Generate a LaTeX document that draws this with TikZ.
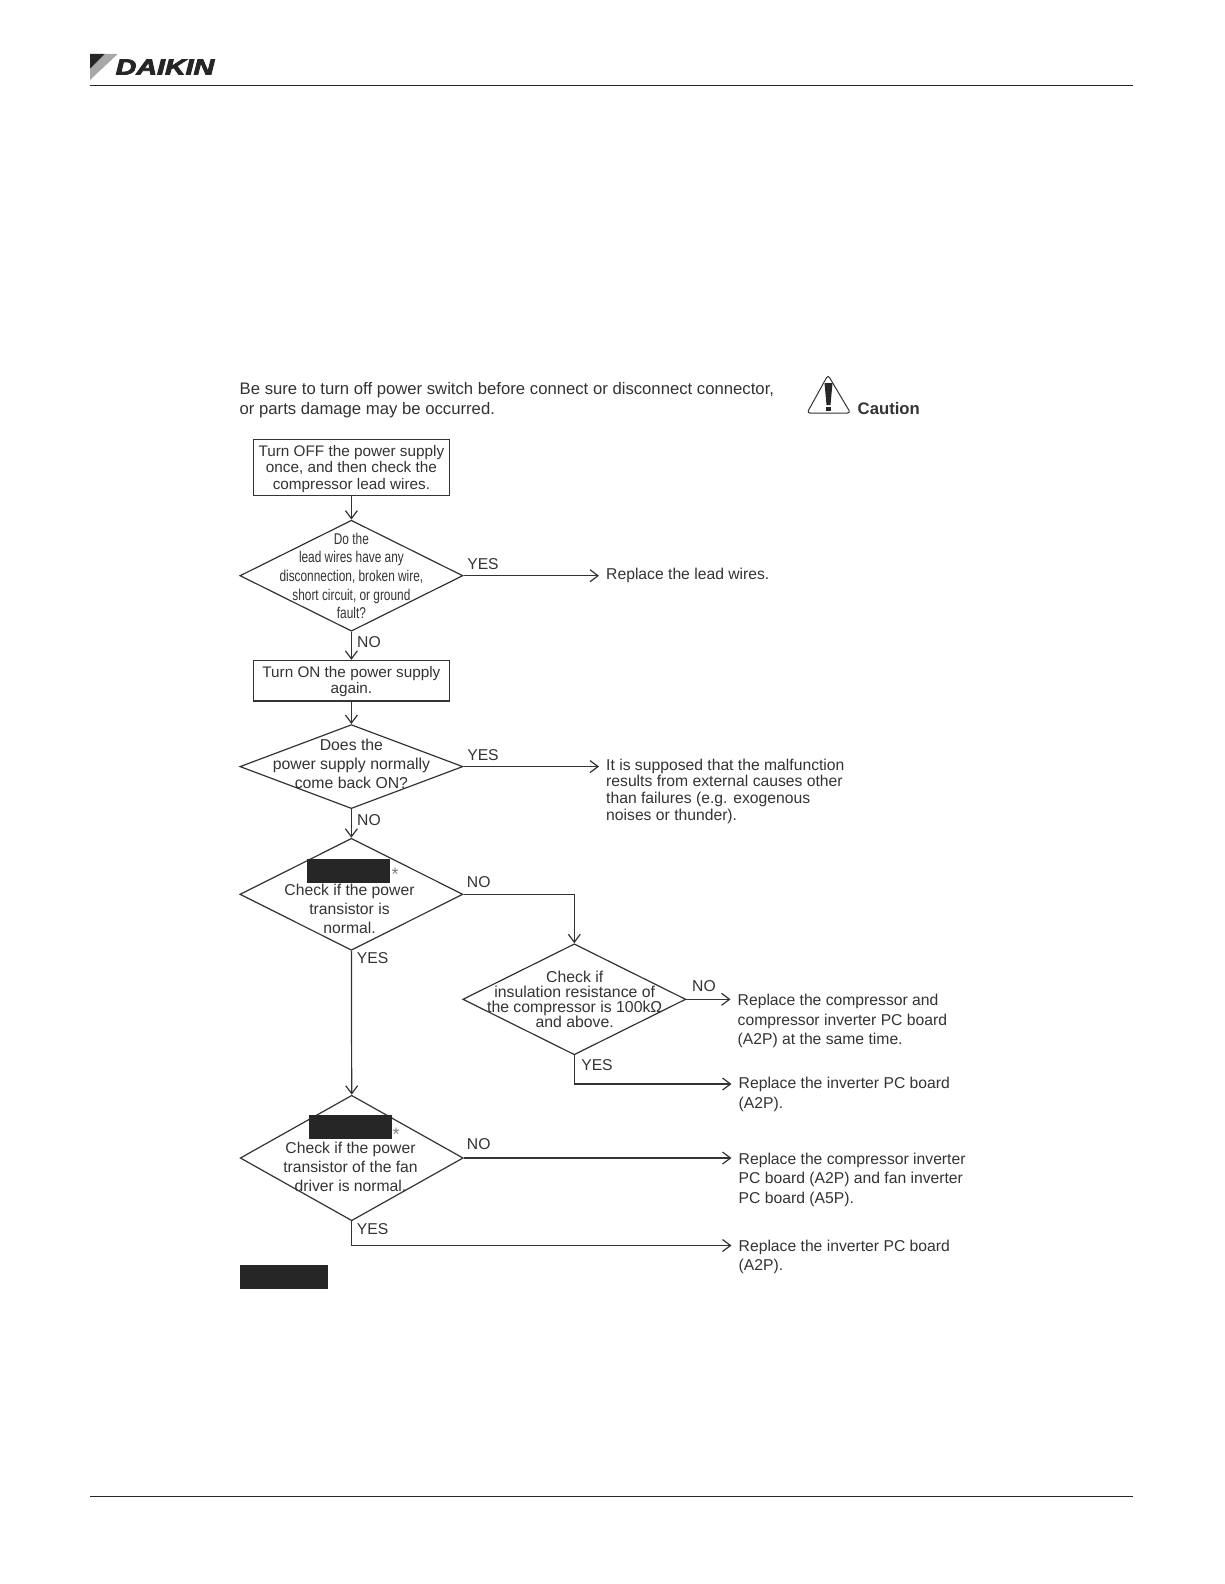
\documentclass[tikz,border=0pt]{standalone}
\usepackage{fontspec}
\setmainfont{Liberation Sans}
\newfontfamily\logofont[FakeBold=3.5]{Liberation Sans}
\usetikzlibrary{shapes.geometric, arrows.meta, positioning}
\definecolor{inkgray}{HTML}{333333}
\definecolor{logogray}{HTML}{A8A8A8}
\definecolor{blockblack}{HTML}{262626}
\tikzset{
    flowtext/.style={text=inkgray, font=\fontsize{15.3}{16.7}\selectfont, align=center, inner sep=0pt},
    stepbox/.style={draw=inkgray, line width=1.2pt, minimum width=195.5pt, inner sep=0pt},
    checkbox/.style={draw=inkgray, line width=1.2pt, diamond, inner sep=0pt, minimum width=223pt},
    resulttext/.style={text=inkgray, font=\fontsize{15.7}{19.6}\selectfont, align=left, anchor=north west, inner xsep=7pt, inner ysep=0pt},
    edgelabel/.style={text=inkgray, font=\fontsize{15.7}{18}\selectfont, inner sep=0pt},
    hidden/.style={fill=blockblack, inner sep=0pt},
    starmark/.style={text=gray, font=\fontsize{18}{18}\selectfont, inner sep=0pt},
    flowline/.style={draw=inkgray, line width=1.2pt, -{Straight Barb[length=8pt,width=12pt]}}
}

\begin{document}
\begin{tikzpicture}[x=1pt, y=-1pt]
    \useasboundingbox (0,0) rectangle (1224,1584);

    \fill[blockblack] (90,54) -- (105,54) -- (90,69) -- cycle;
    \fill[logogray] (105,54) -- (117.7,54) -- (90,80) -- (90,69) -- cycle;
    \node[text=blockblack, font=\logofont\fontsize{22}{22}\selectfont\bfseries\itshape, xscale=1.3, transform shape, inner sep=0pt] (logoname) at (165,67) {DAIKIN};
    \coordinate (headl) at (90,86);
    \coordinate (headr) at (1133,86);
    \coordinate (footl) at (90,1496);
    \coordinate (footr) at (1133,1496);
    \draw[blockblack, line width=1pt] (headl) -- (headr);
    \draw[blockblack, line width=1pt] (footl) -- (footr);

    \node[text=inkgray, font=\fontsize{16.7}{20}\selectfont, align=left, anchor=west, inner sep=0pt] (warning) at (239.5,400) {Be sure to turn off power switch before connect or disconnect connector,\\or parts damage may be occurred.};
    \draw[inkgray, line width=1pt, rounded corners=3pt] (828,375) -- (850.5,413) -- (807,413) -- cycle;
    \fill[blockblack] (824.5,383) -- (832.5,383) -- (830.5,405) -- (826.5,405) -- cycle;
    \fill[blockblack] (826,406.7) rectangle (831,410.7);
    \node[text=inkgray, font=\fontsize{16.7}{20}\selectfont\bfseries, anchor=west, inner sep=0pt] (caution) at (857.5,409) {Caution};

    \node[stepbox, minimum height=55.5pt] (off) at (351.4,467.5) {};
    \node[flowtext] (offtext) at (351.4,469) {Turn OFF the power supply\\once, and then check the\\compressor lead wires.};
    \node[checkbox, aspect=2, minimum height=111pt] (wires) at (351.4,575.7) {};
    \node[flowtext, font=\fontsize{15.6}{18.7}\selectfont, xscale=.76, transform shape] (wirestext) at (351.4,576) {Do the\\lead wires have any\\disconnection, broken wire,\\short circuit, or ground\\fault?};
    \node[stepbox, minimum height=40.5pt] (on) at (351.4,680.7) {};
    \node[flowtext] (ontext) at (351.4,681.5) {Turn ON the power supply\\again.};
    \node[checkbox, aspect=2.67, minimum height=84pt] (back) at (351.4,766.6) {};
    \node[flowtext, font=\fontsize{15.8}{18.7}\selectfont] (backtext) at (351.4,764) {Does the\\power supply normally\\come back ON?};
    \node[checkbox, aspect=2, minimum height=112pt] (trans) at (351.4,894.3) {};
    \node[flowtext, font=\fontsize{15.7}{18.7}\selectfont] (transtext) at (349.5,909) {Check if the power\\transistor is\\normal.};
    \node[hidden, minimum width=83pt, minimum height=24pt] (transhide) at (348.7,871) {};
    \node[starmark] (transstar) at (395,874.6) {*};
    \node[checkbox, aspect=2, minimum height=111pt] (insul) at (574.3,999.3) {};
    \node[flowtext, font=\fontsize{15.8}{15}\selectfont] (insultext) at (574.7,999.5) {Check if\\insulation resistance of\\the compressor is 100kΩ\\and above.};
    \node[checkbox, aspect=1.78, minimum height=125.5pt] (fan) at (351.7,1158) {};
    \node[flowtext, font=\fontsize{15.7}{18.7}\selectfont] (fantext) at (350.5,1167) {Check if the power\\transistor of the fan\\driver is normal.};
    \node[hidden, minimum width=83pt, minimum height=24pt] (fanhide) at (350.5,1127) {};
    \node[starmark] (fanstar) at (396,1134) {*};
    \node[hidden, minimum width=88pt, minimum height=24pt] (legendhide) at (284,1277) {};

    \node[resulttext, font=\fontsize{15.7}{16.7}\selectfont] (leadres) at (599,567.5) {Replace the lead wires.};
    \node[resulttext, font=\fontsize{15.7}{16.7}\selectfont] (externres) at (599,758.5) {It is supposed that the malfunction\\results from external causes other\\than failures (e.g. exogenous\\noises or thunder).};
    \node[resulttext] (bothres) at (730.5,994) {Replace the compressor and\\compressor inverter PC board\\(A2P) at the same time.};
    \node[resulttext] (invres) at (731.5,1077) {Replace the inverter PC board\\(A2P).};
    \node[resulttext] (fanres) at (731.5,1152.5) {Replace the compressor inverter\\PC board (A2P) and fan inverter\\PC board (A5P).};
    \node[resulttext] (lastres) at (731.5,1239.5) {Replace the inverter PC board\\(A2P).};

    \draw[flowline] (off) -- (wires.north);
    \draw[flowline] (wires.south) -- (on.north);
    \draw[flowline] (on.south) -- (back.north);
    \draw[flowline] (back.south) -- (trans.north);
    \draw[flowline] (trans.south) -- (fan.north);
    \draw[flowline] (wires.east) -- (wires.east -| leadres.west);
    \draw[flowline] (back.east) -- (back.east -| externres.west);
    \draw[flowline] (trans.east) -| (insul.north);
    \draw[flowline] (insul.east) -- (insul.east -| bothres.west);
    \draw[flowline] (insul.south) |- ([yshift=-7pt]invres.north west);
    \draw[flowline] (fan.east) -- (fan.east -| fanres.west);
    \draw[flowline] (fan.south) |- ([yshift=-6pt]lastres.north west);

    \node[edgelabel] (yes1) at (483,563.6) {YES};
    \node[edgelabel] (no1) at (369,642) {NO};
    \node[edgelabel] (yes2) at (483,755.5) {YES};
    \node[edgelabel] (no2) at (369,820) {NO};
    \node[edgelabel] (no3) at (478.7,882) {NO};
    \node[edgelabel] (yes3) at (372.7,958.5) {YES};
    \node[edgelabel] (no4) at (704,986) {NO};
    \node[edgelabel] (yes4) at (597,1065.5) {YES};
    \node[edgelabel] (no5) at (478.7,1144) {NO};
    \node[edgelabel] (yes5) at (372.7,1229) {YES};
\end{tikzpicture}
\end{document}
